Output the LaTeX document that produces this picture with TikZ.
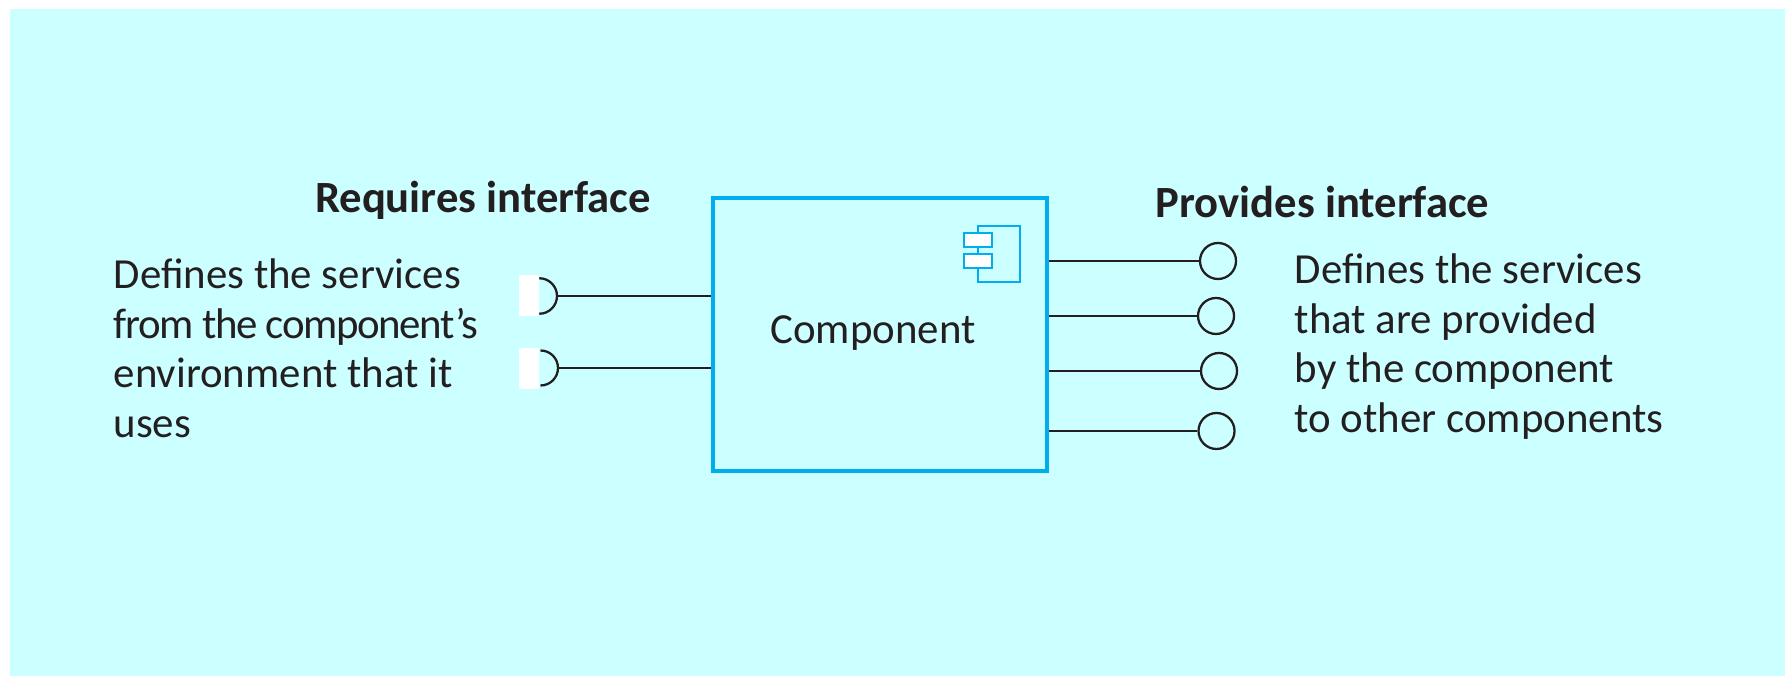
\documentclass[tikz,border=0pt]{standalone}
\usepackage{fontspec}
\setmainfont{Carlito}
\definecolor{panelcyan}{HTML}{CCFFFF}
\definecolor{boxblue}{HTML}{00AEEF}
\definecolor{inkblack}{HTML}{231F20}
\tikzset{
	wire/.style={draw=inkblack,line width=0.65pt},
	plug/.style={wire,circle,fill=panelcyan,minimum size=0.36cm,inner sep=0pt},
	iconline/.style={draw=boxblue,line width=0.55pt},
	bodytext/.style={text=inkblack,align=left,inner sep=0pt,font=\fontsize{12.2}{14.1}\selectfont},
	headtext/.style={text=inkblack,inner sep=0pt,font=\fontsize{12.7}{14}\selectfont\bfseries}
}

\begin{document}
\begin{tikzpicture}
		
		% Page and panel
		\useasboundingbox (0,0) rectangle (17.85,6.76);
		\fill[panelcyan] (0.10,0) rectangle (17.85,6.67);
		
		% Component box and its icon
		\node[draw=boxblue,line width=1.4pt,minimum width=3.34cm,minimum height=2.73cm,inner sep=0pt] (component) at (8.80,3.415) {};
		\draw[iconline] (9.78,4.50) rectangle (10.20,3.94);
		\draw[iconline,fill=white] (9.64,4.43) rectangle (9.92,4.29);
		\draw[iconline,fill=white] (9.64,4.22) rectangle (9.92,4.08);
		\node[text=inkblack,inner sep=0pt,anchor=base,font=\fontsize{12.2}{14}\selectfont] (name) at (8.73,3.32) {Component};
		
		% Required side
		\fill[white] (5.19,3.60) rectangle (5.39,4.01);
		\fill[white] (5.19,2.87) rectangle (5.39,3.28);
		\coordinate (socketa) at (5.57,3.80);
		\coordinate (socketb) at (5.58,3.08);
		\draw[wire] (socketa) arc (0:90:0.1775);
		\draw[wire] (socketa) arc (0:-90:0.1775);
		\draw[wire] (socketb) arc (0:90:0.175);
		\draw[wire] (socketb) arc (0:-90:0.175);
		\draw[wire] (socketa) -- (component.west |- socketa);
		\draw[wire] (socketb) -- (component.west |- socketb);
		
		% Provided side
		\node[plug] (plugA) at (12.18,4.15) {};
		\node[plug] (plugB) at (12.16,3.60) {};
		\node[plug] (plugC) at (12.19,3.05) {};
		\node[plug] (plugD) at (12.165,2.45) {};
		\draw[wire] (plugA) -- (component.east |- plugA);
		\draw[wire] (plugB) -- (component.east |- plugB);
		\draw[wire] (plugC) -- (component.east |- plugC);
		\draw[wire] (plugD) -- (component.east |- plugD);
		
		% Labels
		\node[headtext,anchor=base] (requires) at (4.83,4.63) {Requires interface};
		\node[headtext,anchor=base west] (provides) at (11.55,4.58) {Provides interface};
		\node[bodytext,anchor=north west] (reqtext) at (1.13,4.18) {Defines the services\\{\addfontfeature{LetterSpace=-3.2}from the component’s}\\environment that it\\uses};
		\node[bodytext,anchor=north west] (provtext) at (12.94,4.23) {Defines the services\\that are provided\\by the component\\to other components};
		
	\end{tikzpicture}
\end{document}
